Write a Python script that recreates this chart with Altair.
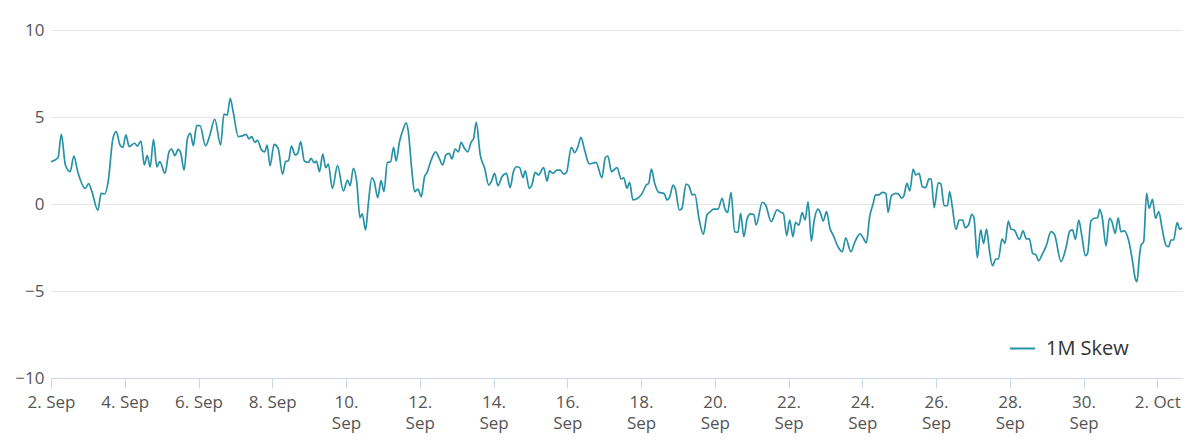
import altair as alt
import pandas as pd

# day offsets from 2 Sep 00:00 and 1M skew values
days = [0.00,0.19,0.28,0.39,0.52,0.62,0.72,0.93,1.02,1.11,1.27,1.36,1.46,1.55,1.68,1.77,1.87,1.95,2.03,2.12,
        2.27,2.34,2.44,2.53,2.61,2.69,2.78,2.87,2.95,3.09,3.20,3.27,3.36,3.45,3.52,3.61,3.70,3.78,3.86,3.95,
        4.04,4.19,4.31,4.44,4.60,4.69,4.78,4.86,4.94,5.08,5.21,5.29,5.37,5.44,5.53,5.60,5.71,5.80,5.86,5.94,
        6.05,6.16,6.28,6.36,6.44,6.52,6.62,6.69,6.77,6.87,6.98,7.05,7.14,7.20,7.28,7.37,7.45,7.52,7.63,7.77,
        7.93,8.04,8.11,8.20,8.29,8.38,8.44,8.53,8.61,8.70,8.77,8.86,8.95,9.03,9.12,9.21,9.29,9.36,9.45,9.56,
        9.63,9.69,9.78,9.86,9.95,10.04,10.13,10.20,10.31,10.43,10.53,10.62,10.71,10.80,10.87,10.96,11.05,11.12,11.21,11.30,
        11.40,11.46,11.53,11.64,11.76,11.87,11.94,12.03,12.12,12.23,12.35,12.45,12.54,12.63,12.71,12.80,12.86,12.97,13.04,13.13,
        13.22,13.36,13.45,13.52,13.61,13.72,13.81,13.90,13.98,14.11,14.20,14.29,14.37,14.47,14.60,14.69,14.78,14.94,15.03,15.10,
        15.20,15.35,15.46,15.53,15.62,15.69,15.78,15.94,16.03,16.14,16.21,16.28,16.37,16.48,16.62,16.71,16.78,16.87,16.93,17.04,
        17.11,17.22,17.31,17.39,17.46,17.57,17.69,17.79,17.88,17.97,18.09,18.20,18.27,18.35,18.44,18.54,18.63,18.70,18.79,18.88,
        18.97,19.06,19.12,19.29,19.38,19.53,19.69,19.79,19.86,19.95,20.03,20.12,20.19,20.28,20.37,20.45,20.53,20.62,20.69,20.80,
        20.87,20.94,21.03,21.12,21.23,21.32,21.46,21.55,21.69,21.80,21.94,22.03,22.11,22.20,22.29,22.36,22.45,22.54,22.64,22.70,
        22.79,22.91,22.98,23.07,23.13,23.21,23.29,23.38,23.45,23.54,23.63,23.72,23.81,23.87,23.95,24.06,24.13,24.22,24.31,24.37,
        24.44,24.54,24.63,24.72,24.79,24.88,24.97,25.03,25.12,25.21,25.29,25.37,25.44,25.53,25.62,25.69,25.79,25.87,25.96,26.03,
        26.12,26.26,26.36,26.45,26.53,26.62,26.71,26.78,26.89,26.98,27.12,27.21,27.39,27.52,27.63,27.70,27.78,27.87,27.95,28.05,
        28.11,28.20,28.29,28.38,28.44,28.51,28.61,28.70,28.77,28.86,28.94,29.01,29.10,29.22,29.33,29.40,29.45,29.51,29.56,29.63,
        29.71,29.78,29.87,29.95,30.04,30.13,30.24,30.31,30.37,30.44,30.54,30.61,30.67]

skew = [2.43,2.66,4.0,2.24,1.86,2.76,1.9,0.9,1.17,0.71,-0.36,0.61,0.59,1.28,3.77,4.16,3.39,3.26,3.97,3.3,
        3.49,3.33,3.62,2.24,2.78,2.13,3.72,2.13,2.43,1.76,3.0,3.16,2.78,3.14,2.91,1.95,3.77,4.06,3.35,4.5,
        4.5,3.35,3.97,4.87,3.39,5.17,5.11,6.07,5.3,3.87,3.93,4.0,3.74,3.87,3.54,3.66,3.1,3.0,3.39,2.2,
        3.43,3.2,1.71,2.43,2.49,3.33,2.82,2.91,3.58,2.47,2.39,2.62,2.37,2.47,1.86,2.87,2.09,2.3,0.9,2.2,
        0.75,1.38,1.05,2.05,1.28,-0.79,-0.56,-1.49,0.13,1.51,1.25,0.36,1.34,0.71,2.39,2.43,3.26,2.47,3.58,4.35,
        4.67,4.16,2.05,0.71,0.86,0.42,1.57,1.82,2.53,3.0,2.62,2.24,2.82,2.91,2.59,3.16,3.0,3.54,3.2,3.0,
        3.58,3.77,4.69,2.82,2.05,1.09,1.28,1.76,1.05,1.57,1.76,0.94,1.86,2.14,2.09,1.51,1.9,0.9,1.09,1.82,
        1.67,2.09,1.32,1.9,1.76,1.95,1.95,1.72,1.82,3.26,2.95,3.3,3.83,3.1,2.3,2.34,2.39,1.51,2.66,2.76,
        1.86,2.09,1.44,1.51,0.9,1.25,0.23,0.38,0.61,1.09,1.19,2.01,1.19,0.67,0.61,0.23,0.42,1.09,0.86,-0.34,
        -0.25,1.15,0.99,0.52,0.56,-0.82,-1.74,-0.63,-0.44,-0.29,-0.29,0.33,-0.25,-0.48,0.67,-1.59,-1.63,-0.54,-1.88,-0.82,
        -0.57,-0.6,-1.21,0.1,-0.06,-1.02,-0.34,-0.48,-0.54,-1.82,-0.92,-1.88,-1.05,-1.21,-0.5,-0.92,0.13,-2.13,-1.02,-0.29,
        -0.54,-0.98,-0.44,-1.36,-1.88,-2.36,-2.74,-1.94,-2.74,-2.17,-1.72,-1.97,-2.24,-0.73,-0.02,0.52,0.52,0.67,0.61,-0.48,
        0.48,0.61,0.57,0.33,0.48,1.19,0.75,2.01,1.67,1.76,0.99,0.94,1.44,1.42,-0.21,1.22,1.15,-0.1,-0.1,0.71,
        -0.15,-1.46,-0.92,-0.92,-1.36,-1.21,-0.59,-0.82,-3.09,-1.49,-2.26,-1.44,-2.55,-3.55,-3.16,-3.16,-2.01,-2.26,-0.98,-1.44,
        -1.49,-2.03,-1.55,-2.01,-2.01,-2.84,-2.93,-3.26,-2.84,-2.45,-1.59,-1.74,-3.31,-2.55,-1.55,-1.49,-2.03,-0.92,-1.78,-2.97,
        -2.84,-0.98,-0.82,-0.79,-0.31,-0.82,-2.41,-0.82,-1.02,-1.69,-0.79,-1.59,-1.55,-2.07,-3.31,-4.27,-4.46,-3.12,-2.36,-2.17,
        0.61,-0.25,0.27,-0.82,-0.44,-1.4,-2.39,-2.45,-2.07,-2.07,-1.07,-1.46,-1.36]

series_name = "1M Skew"
y_ticks = [-10, -5, 0, 5, 10]
x_tick_dates = [(9, d) for d in range(2, 31, 2)] + [(10, 2)]

start = pd.Timestamp("2023-09-02 00:00:00")
df = pd.DataFrame({
    "time": [(start + pd.to_timedelta(d, unit="D")).strftime("%Y-%m-%dT%H:%M:%S") for d in days],
    "skew": skew,
    "series": series_name,
})

FONT = "Open Sans"
LINE_COLOR = "#2792a6"

label_expr = (
    "month(datum.value) == 8 && date(datum.value) < 10 ? date(datum.value) + '. Sep' : "
    "(month(datum.value) == 9 ? date(datum.value) + '. Oct' : [date(datum.value) + '.', 'Sep'])"
)

chart = alt.Chart(df).mark_line(strokeWidth=1.7, interpolate="monotone").encode(
    x=alt.X(
        "time:T",
        title=None,
        scale=alt.Scale(nice=False),
        axis=alt.Axis(
            values=[alt.DateTime(year=2023, month=m, date=d) for m, d in x_tick_dates],
            labelExpr=label_expr,
            grid=False,
            domainColor="#ccd6eb",
            tickColor="#ccd6eb",
            tickSize=10,
            labelPadding=6,
            labelFont=FONT,
            labelFontSize=17,
            labelColor="#555555",
            labelLineHeight=21,
            labelOverlap=False,
            labelFlush=False,
        ),
    ),
    y=alt.Y(
        "skew:Q",
        title=None,
        scale=alt.Scale(domain=[-10, 10], nice=False, zero=False),
        axis=alt.Axis(
            values=y_ticks,
            domain=False,
            ticks=False,
            tickSize=0,
            labelPadding=7,
            gridColor="#e6e6e6",
            gridWidth=1,
            labelFont=FONT,
            labelFontSize=17,
            labelColor="#555555",
        ),
    ),
    color=alt.Color(
        "series:N",
        scale=alt.Scale(range=[LINE_COLOR]),
        legend=alt.Legend(
            title=None,
            orient="none",
            legendX=958,
            legendY=305,
            symbolType="stroke",
            symbolSize=625,
            symbolStrokeWidth=2,
            labelFont=FONT,
            labelFontSize=20,
            labelColor="#333333",
            labelOffset=10,
        ),
    ),
).properties(
    width=1131,
    height=348,
    padding={"left": 51, "top": 30, "right": 18, "bottom": 66},
    autosize=alt.AutoSizeParams(type="none"),
).configure_view(stroke=None)

chart.save("out.html", embed_options={"renderer": "svg", "actions": False})
